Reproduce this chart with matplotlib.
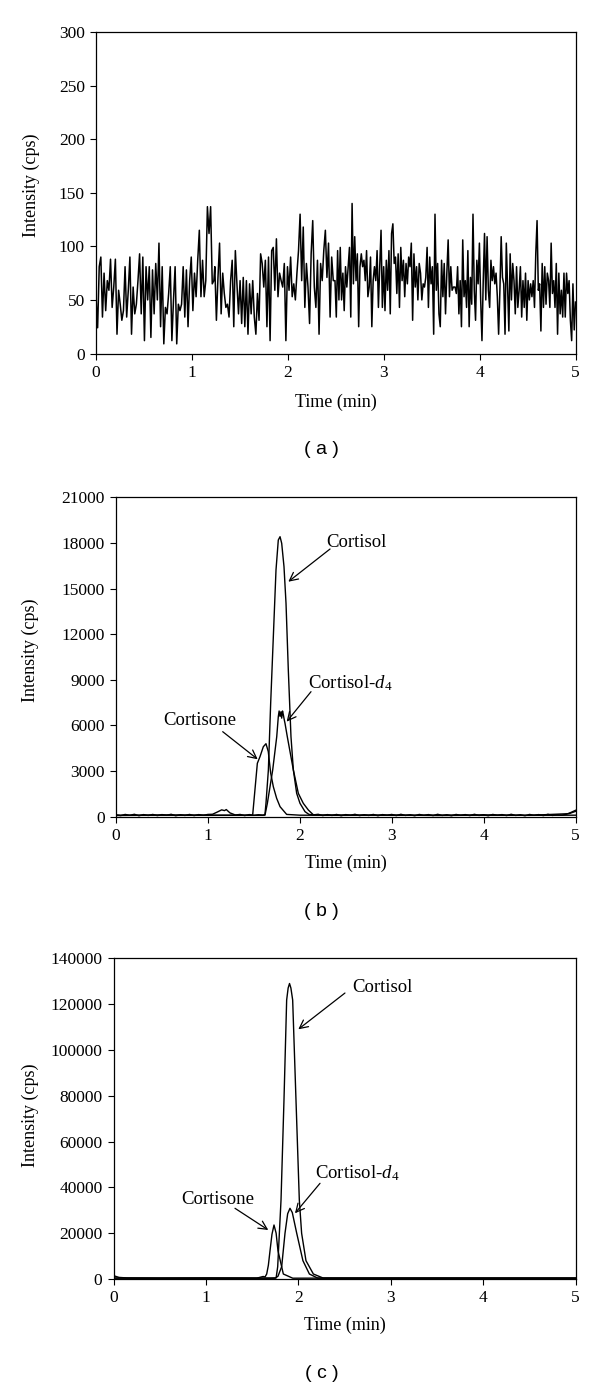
import numpy as np
import matplotlib
matplotlib.use('Agg')
import matplotlib.pyplot as plt

plt.rcParams['font.family'] = ['Liberation Serif', 'DejaVu Serif']
plt.rcParams['mathtext.fontset'] = 'custom'
plt.rcParams['mathtext.rm'] = 'Liberation Serif'
plt.rcParams['mathtext.it'] = 'Liberation Serif:italic'

# ---------------- data ----------------
time_ticks = [0, 1, 2, 3, 4, 5]

# Panel (a): blank noise trace, read in four consecutive time segments
a_seg_edges = [(0.0, 1.229), (1.239, 2.474), (2.492, 3.727), (3.744, 5.0)]
a_seg1 = [53, 24, 81, 90, 34, 75, 40, 68, 59, 88, 43, 62, 88, 18, 59, 46, 31, 40, 81, 34,
          59, 90, 18, 62, 37, 46, 68, 93, 37, 90, 12, 81, 50, 81, 15, 78, 37, 84, 50, 103,
          25, 81, 9, 43, 37, 56, 81, 12, 50, 81, 9, 46, 40, 46, 81, 34, 78, 25, 68, 90,
          40, 75, 53, 87, 115, 53, 87, 53, 68, 137, 112, 137, 65, 68]
a_seg2 = [81, 31, 71, 103, 37, 75, 56, 43, 46, 34, 68, 87, 25, 96, 65, 37, 68, 28, 71, 25,
          68, 18, 65, 37, 68, 34, 18, 56, 31, 93, 84, 62, 87, 25, 90, 12, 96, 99, 59, 107,
          53, 75, 68, 62, 84, 12, 81, 59, 90, 53, 65, 50, 75, 96, 130, 68, 118, 43, 84, 62,
          28, 93, 124, 62, 43, 87, 18, 84, 68, 96, 115, 71, 103, 34, 90, 68]
a_seg3 = [68, 34, 96, 50, 99, 50, 75, 40, 81, 62, 81, 99, 34, 140, 65, 109, 68, 93, 25, 81,
          93, 81, 87, 68, 96, 53, 62, 90, 25, 68, 81, 68, 96, 43, 81, 115, 43, 81, 40, 87,
          59, 96, 37, 112, 121, 84, 90, 56, 93, 43, 99, 68, 87, 53, 84, 65, 90, 81, 103, 31,
          93, 62, 81, 50, 84, 75, 50, 65, 62, 71, 99, 43, 90, 65, 81, 18, 130, 59, 84, 37,
          25, 87, 53, 84, 37, 75, 106, 53, 81, 59, 62]
a_seg4 = [62, 56, 81, 37, 68, 25, 106, 53, 68, 43, 96, 25, 71, 46, 130, 59, 31, 87, 65, 103,
          50, 12, 68, 112, 50, 109, 59, 43, 87, 68, 81, 65, 75, 53, 18, 59, 109, 71, 65, 18,
          103, 62, 21, 93, 50, 84, 68, 37, 81, 43, 59, 81, 34, 68, 43, 75, 31, 68, 50, 65,
          53, 68, 43, 93, 124, 59, 65, 21, 84, 43, 81, 46, 75, 68, 43, 103, 56, 68, 43, 84,
          18, 75, 37, 59, 34, 75, 34, 75, 56, 68, 31, 12, 65, 22, 48]
a_yticks = [0, 50, 100, 150, 200, 250, 300]

# Panel (b)
b_cortisol_t = [0.0, 0.05, 0.1, 0.15, 0.2, 0.25, 0.3, 0.35, 0.4, 0.45, 0.5, 0.55, 0.6, 0.65,
                0.7, 0.75, 0.8, 0.85, 0.9, 0.95, 1.0, 1.05, 1.1, 1.15, 1.18, 1.2, 1.24, 1.3,
                1.35, 1.4, 1.45, 1.5, 1.55, 1.6, 1.621, 1.632, 1.658, 1.683, 1.712, 1.741,
                1.766, 1.785, 1.803, 1.828, 1.85, 1.875, 1.904, 1.93, 1.966, 2.002, 2.057,
                2.1, 2.15, 2.2, 2.25, 2.3, 2.35, 2.4, 2.45, 2.5, 2.55, 2.6, 2.65, 2.7, 2.75,
                2.8, 2.85, 2.9, 2.95, 3.0, 3.05, 3.1, 3.15, 3.2, 3.25, 3.3, 3.35, 3.4, 3.45,
                3.5, 3.55, 3.6, 3.65, 3.7, 3.75, 3.8, 3.85, 3.9, 3.95, 4.0, 4.05, 4.1, 4.15,
                4.2, 4.25, 4.3, 4.35, 4.4, 4.45, 4.5, 4.55, 4.6, 4.65, 4.7, 4.75, 4.8, 4.85,
                4.9, 4.95, 5.0]
b_cortisol_v = [130, 70, 150, 90, 160, 60, 140, 80, 150, 70, 140, 90, 160, 60, 130, 80, 150,
                70, 140, 90, 150, 160, 300, 450, 400, 470, 250, 110, 150, 70, 140, 90, 130,
                100, 150, 880, 3070, 7455, 11840, 16220, 18190, 18410, 17975, 16440, 14030,
                9645, 5260, 3070, 1535, 880, 330, 150, 120, 160, 70, 140, 80, 150, 60, 140,
                90, 160, 70, 130, 80, 150, 60, 140, 90, 150, 70, 160, 80, 130, 60, 150, 90,
                140, 70, 160, 80, 130, 60, 150, 90, 140, 70, 160, 80, 130, 60, 150, 90, 140,
                70, 160, 80, 130, 60, 150, 90, 140, 70, 160, 80, 130, 100, 160, 280, 420]
b_d4_t = [0.0, 0.5, 1.0, 1.5, 1.621, 1.647, 1.705, 1.749, 1.766, 1.775, 1.785, 1.795, 1.803,
          1.812, 1.821, 1.83, 1.839, 1.864, 1.93, 1.984, 2.038, 2.093, 2.15, 2.5, 3.0, 3.5,
          4.0, 4.5, 4.93, 5.0]
b_d4_v = [90, 110, 100, 90, 100, 880, 3070, 5260, 6570, 6950, 6600, 6900, 6480,
          6950, 6700, 6400, 6140, 5260, 3070, 1535, 880, 440, 110, 110, 90, 100,
          110, 90, 200, 350]
b_cortisone_t = [0.0, 0.5, 1.0, 1.4, 1.487, 1.538, 1.567, 1.603, 1.632, 1.657, 1.683, 1.712,
                 1.748, 1.785, 1.857, 2.0, 2.5, 3.0, 3.5, 4.0, 4.5, 5.0]
b_cortisone_v = [80, 100, 90, 100, 100, 3510, 3950, 4600, 4800, 4280, 2870, 1970,
                 1210, 660, 150, 100, 90, 110, 80, 100, 90, 100]
b_yticks = [0, 3000, 6000, 9000, 12000, 15000, 18000, 21000]

# Panel (c)
c_cortisol_t = [0.0, 0.02, 0.06, 0.15, 0.5, 1.0, 1.5, 1.70, 1.76, 1.777, 1.813, 1.845, 1.874,
                1.89, 1.905, 1.92, 1.939, 1.975, 2.011, 2.036, 2.083, 2.163, 2.27, 3.0, 4.0, 5.0]
c_cortisol_v = [1500, 1200, 700, 450, 400, 400, 400, 400, 500, 5370, 34500, 78100, 121800,
                127000, 129000, 127000, 121800, 78100, 34500, 19950, 8000, 2180, 400, 400, 400, 400]
c_d4_t = [0.0, 0.5, 1.0, 1.5, 1.75, 1.78, 1.82, 1.856, 1.885, 1.91, 1.935, 1.983, 2.05, 2.12,
          2.21, 2.5, 3.5, 5.0]
c_d4_v = [400, 350, 400, 350, 350, 1200, 5370, 19950, 28500, 30860, 29000, 19950, 8000, 2180,
          400, 350, 400, 350]
c_cortisone_t = [0.0, 0.5, 1.0, 1.55, 1.60, 1.62, 1.64, 1.658, 1.676, 1.694, 1.715, 1.737,
                 1.76, 1.78, 1.838, 1.94, 2.5, 3.5, 5.0]
c_cortisone_v = [400, 350, 400, 350, 900, 1100, 900, 2180, 6000, 12370, 19500, 23570,
                 20000, 12370, 2180, 350, 400, 350, 400]
c_yticks = [0, 20000, 40000, 60000, 80000, 100000, 120000, 140000]

# ---------------- figure ----------------
W, H = 600, 1389
fig = plt.figure(figsize=(W / 100, H / 100), dpi=100)


def px_axes(l, r, t, b):
    return fig.add_axes([l / W, 1 - b / H, (r - l) / W, (b - t) / H])


def style(ax, yticks):
    ax.set_xlim(0, 5)
    ax.set_ylim(yticks[0], yticks[-1])
    ax.set_xticks(time_ticks)
    ax.set_yticks(yticks)
    ax.set_xticklabels([str(v) for v in time_ticks])
    ax.set_yticklabels([str(v) for v in yticks])
    ax.tick_params(direction='out', length=4, width=0.8, labelsize=12.5, pad=4,
                   top=False, right=False, colors='black')
    for s in ax.spines.values():
        s.set_linewidth(0.9)
        s.set_color('black')


def ftext(x, y, s, **kw):
    fig.text(x / W, 1 - y / H, s, **kw)


arrow_kw = dict(arrowstyle='->,head_length=0.6,head_width=0.3', lw=0.9, color='black',
                shrinkA=0, shrinkB=0, mutation_scale=10)
lab_kw = dict(fontsize=13)
cap_kw = dict(fontsize=14, family=['Liberation Sans', 'DejaVu Sans'], ha='center', va='center')

# ---- panel a ----
ax = px_axes(96, 575.5, 32, 353.5)
a_vals = [a_seg1, a_seg2, a_seg3, a_seg4]
a_t = np.concatenate([np.linspace(t0, t1, len(v)) for (t0, t1), v in zip(a_seg_edges, a_vals)])
a_v = np.concatenate([np.asarray(v, float) for v in a_vals])
ax.plot(a_t, a_v, color='black', lw=1.1)
style(ax, a_yticks)
ftext(31.7, 185, 'Intensity (cps)', rotation=90, ha='center', va='center', **lab_kw)
ftext(335.7, 402, 'Time (min)', ha='center', va='center', **lab_kw)
ftext(321.7, 450, '( a )', **cap_kw)

# ---- panel b ----
ax = px_axes(116, 575.5, 497.3, 816.7)
ax.plot(b_cortisol_t, b_cortisol_v, color='black', lw=1.0)
ax.plot(b_d4_t, b_d4_v, color='black', lw=1.0)
ax.plot(b_cortisone_t, b_cortisone_v, color='black', lw=1.0)
style(ax, b_yticks)
ax.text(2.293, 17730, 'Cortisol', ha='left', va='baseline', fontsize=13.5)
ax.annotate('', xy=(1.875, 15450), xytext=(2.329, 17600), arrowprops=arrow_kw)
ax.text(2.092, 8440, 'Cortisol-$\\mathit{d}_4$', ha='left', va='baseline', fontsize=13.5)
ax.annotate('', xy=(1.857, 6246), xytext=(2.122, 8220), arrowprops=arrow_kw)
ax.text(1.313, 6030, 'Cortisone', ha='right', va='baseline', fontsize=13.5)
ax.annotate('', xy=(1.542, 3774), xytext=(1.161, 5590), arrowprops=arrow_kw)
ftext(30, 650, 'Intensity (cps)', rotation=90, ha='center', va='center', **lab_kw)
ftext(345.7, 863.5, 'Time (min)', ha='center', va='center', **lab_kw)
ftext(321.7, 911.7, '( b )', **cap_kw)

# ---- panel c ----
ax = px_axes(113.5, 575.5, 958.3, 1279)
ax.plot(c_cortisol_t, c_cortisol_v, color='black', lw=1.0)
ax.plot(c_d4_t, c_d4_v, color='black', lw=1.0)
ax.plot(c_cortisone_t, c_cortisone_v, color='black', lw=1.0)
style(ax, c_yticks)
ax.text(2.581, 125270, 'Cortisol', ha='left', va='baseline', fontsize=13.5)
ax.annotate('', xy=(2.0, 109000), xytext=(2.505, 124840), arrowprops=arrow_kw)
ax.text(2.181, 43950, 'Cortisol-$\\mathit{d}_4$', ha='left', va='baseline', fontsize=13.5)
ax.annotate('', xy=(1.964, 28680), xytext=(2.235, 41770), arrowprops=arrow_kw)
ax.text(1.521, 32740, 'Cortisone', ha='right', va='baseline', fontsize=13.5)
ax.annotate('', xy=(1.675, 21390), xytext=(1.315, 30860), arrowprops=arrow_kw)
ftext(30, 1115, 'Intensity (cps)', rotation=90, ha='center', va='center', **lab_kw)
ftext(344.5, 1325, 'Time (min)', ha='center', va='center', **lab_kw)
ftext(321.7, 1373, '( c )', **cap_kw)

fig.savefig('out.png', dpi=100, facecolor='white')
